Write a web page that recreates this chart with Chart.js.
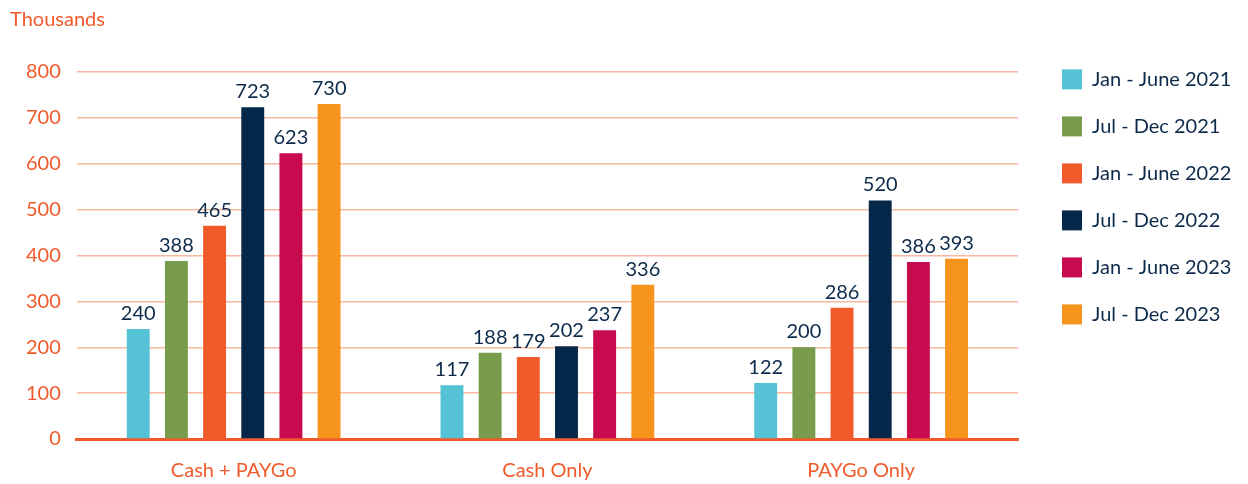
<!DOCTYPE html>
<html lang="en">
  <head>
    <meta charset="UTF-8" />
    <title>Thousands by period</title>
    <script src="https://cdn.jsdelivr.net/npm/chart.js"></script>
    <style>
      body { margin: 0; background: #fff; }
      .wrap { width: 1248px; height: 484px; position: relative; }
    </style>
  </head>
  <body>
    <div class="wrap">
      <canvas id="barChart"></canvas>
    </div>

    <script>
      // data
      const categories = ["Cash + PAYGo", "Cash Only", "PAYGo Only"];
      const periods = [
        "Jan - June 2021",
        "Jul - Dec 2021",
        "Jan - June 2022",
        "Jul - Dec 2022",
        "Jan - June 2023",
        "Jul - Dec 2023",
      ];
      const jan2021 = [240, 117, 122];
      const jul2021 = [388, 188, 200];
      const jan2022 = [465, 179, 286];
      const jul2022 = [723, 202, 520];
      const jan2023 = [623, 237, 386];
      const jul2023 = [730, 336, 393];
      const yTicks = [0, 100, 200, 300, 400, 500, 600, 700, 800];

      const colors = ["#55c2d6", "#789c4b", "#f15a2b", "#05274a", "#c80a4e", "#f7941d"];
      const orange = "#f15a2b";
      const navy = "#0d2a4a";
      const fontFamily = "Lato, 'Open Sans', sans-serif";

      const seriesValues = [jan2021, jul2021, jan2022, jul2022, jan2023, jul2023];

      // value labels above each bar
      const barLabels = {
        id: "barLabels",
        afterDatasetsDraw(chart) {
          const ctx = chart.ctx;
          ctx.save();
          ctx.font = "20px " + fontFamily;
          ctx.fillStyle = navy;
          ctx.textAlign = "center";
          ctx.textBaseline = "alphabetic";
          chart.data.datasets.forEach((ds, i) => {
            const meta = chart.getDatasetMeta(i);
            meta.data.forEach((bar, j) => {
              ctx.fillText(ds.data[j], bar.x, bar.y - 9);
            });
          });
          ctx.restore();
        },
      };

      new Chart(document.getElementById("barChart"), {
        type: "bar",
        data: {
          labels: categories,
          datasets: periods.map((p, i) => ({
            label: p,
            data: seriesValues[i],
            backgroundColor: colors[i],
            barPercentage: 0.6,
            categoryPercentage: 0.73,
          })),
        },
        options: {
          responsive: true,
          maintainAspectRatio: false,
          animation: false,
          layout: { padding: { left: 10, right: 8, top: 0, bottom: 0 } },
          plugins: {
            title: {
              display: true,
              text: "Thousands",
              align: "start",
              color: orange,
              font: { family: fontFamily, size: 20, weight: "normal" },
              padding: { top: 8, bottom: 40 },
            },
            legend: {
              position: "right",
              align: "start",
              title: {
                display: true,
                text: " ",
                font: { size: 2 },
                padding: { top: 0, bottom: 40 },
              },
              labels: {
                boxWidth: 20,
                boxHeight: 20,
                padding: 27,
                color: navy,
                font: { family: fontFamily, size: 20 },
              },
            },
            tooltip: { enabled: false },
          },
          scales: {
            y: {
              min: 0,
              max: 800,
              afterBuildTicks(axis) {
                axis.ticks = yTicks.map((v) => ({ value: v }));
              },
              grid: { color: "#f8b8a0", lineWidth: 1.5, drawTicks: false },
              border: { display: false },
              ticks: {
                color: orange,
                padding: 16,
                font: { family: fontFamily, size: 20 },
              },
            },
            // empty axis, only widens the gap before the legend
            gap: {
              position: "right",
              display: true,
              grid: { display: false },
              border: { display: false },
              ticks: { display: false },
              afterFit(axis) {
                axis.width = 17;
              },
            },
            x: {
              grid: { display: false, drawTicks: false },
              border: { color: orange, width: 3 },
              ticks: {
                color: orange,
                padding: 20,
                font: { family: fontFamily, size: 20 },
              },
              afterFit(axis) {
                axis.height = 45;
              },
            },
          },
        },
        plugins: [barLabels],
      });
    </script>
  </body>
</html>
